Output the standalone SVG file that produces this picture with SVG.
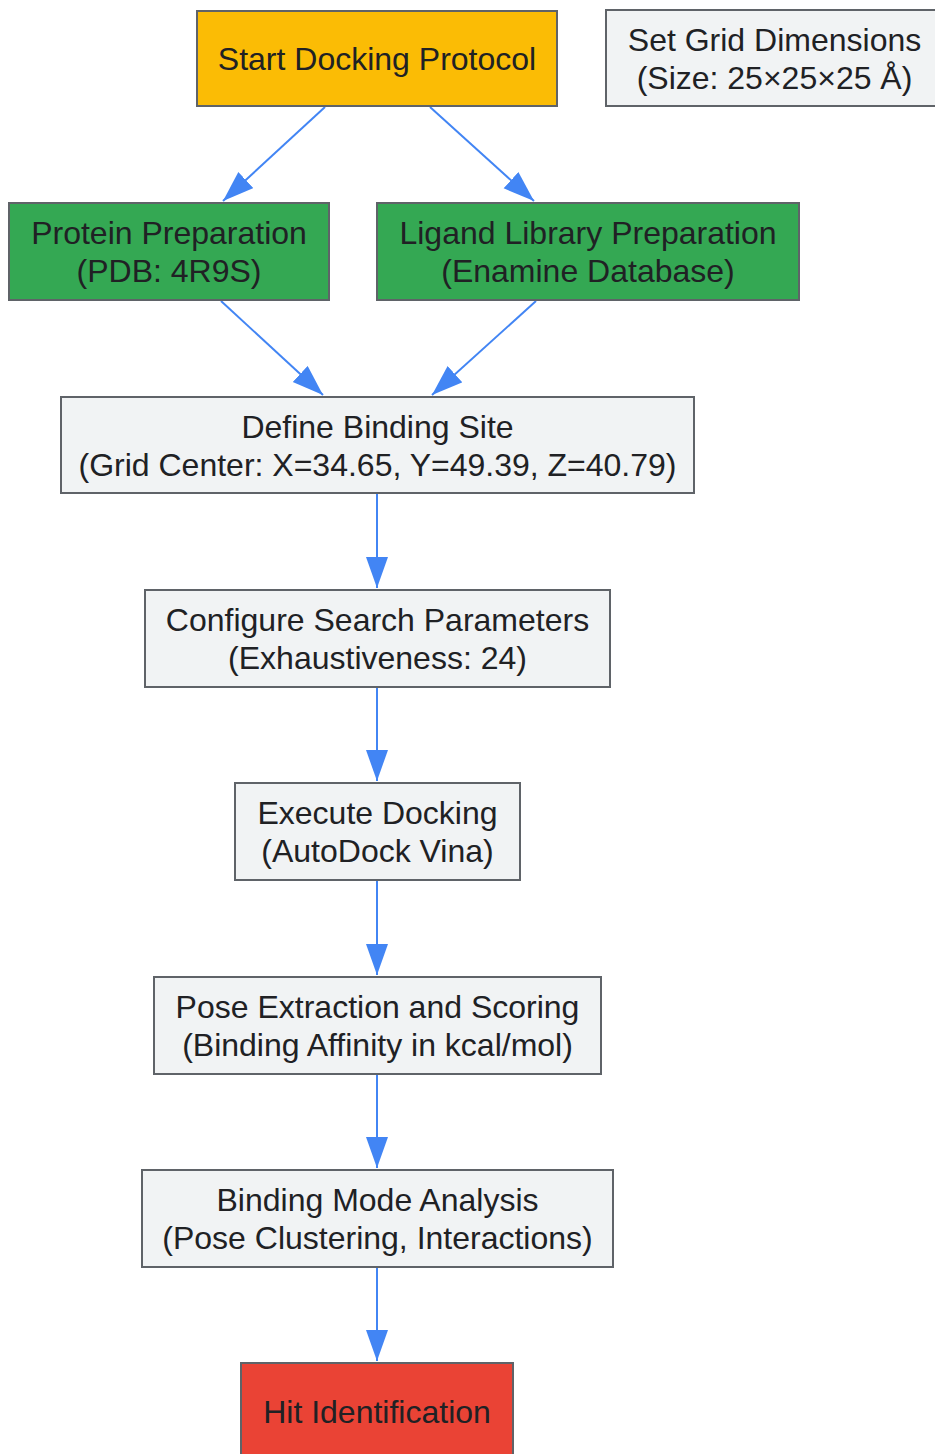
<svg xmlns="http://www.w3.org/2000/svg" width="935" height="1454" viewBox="0 0 935 1454">
<style>
rect.n{stroke:#5f6368;stroke-width:2}
.g{fill:#f1f3f4}.y{fill:#fbbc05}.gr{fill:#34a853}.r{fill:#ea4335}
text{font-family:"Liberation Sans",Arial,sans-serif;font-size:32px;fill:#202124;text-anchor:middle}
.e{stroke:#4285f4;stroke-width:2;fill:none}
</style>
<defs>
<marker id="ah" markerUnits="userSpaceOnUse" markerWidth="33" markerHeight="24" refX="31" refY="11" orient="auto">
<path d="M0,0 L31,11 L0,22 z" fill="#4285f4"/>
</marker>
</defs>
<g id="connectors">
<path class="e" d="M325,107 L223,201" marker-end="url(#ah)"/>
<path class="e" d="M430,107 L534,201" marker-end="url(#ah)"/>
<path class="e" d="M221,301 L323,395" marker-end="url(#ah)"/>
<path class="e" d="M536,301 L432,395" marker-end="url(#ah)"/>
<path class="e" d="M377,494 L377,588" marker-end="url(#ah)"/>
<path class="e" d="M377,688 L377,781" marker-end="url(#ah)"/>
<path class="e" d="M377,881 L377,975" marker-end="url(#ah)"/>
<path class="e" d="M377,1075 L377,1168" marker-end="url(#ah)"/>
<path class="e" d="M377,1268 L377,1361" marker-end="url(#ah)"/>
</g>
<g id="start"><rect class="n y" x="197" y="11" width="360" height="95"/><text x="377" y="70">Start Docking Protocol</text></g>
<g id="gridDims"><rect class="n g" x="606" y="10" width="337" height="96"/><text x="774.5" y="51">Set Grid Dimensions</text><text x="774.5" y="89">(Size: 25×25×25 Å)</text></g>
<g id="protein"><rect class="n gr" x="9" y="203" width="320" height="97"/><text x="169" y="244">Protein Preparation</text><text x="169" y="282">(PDB: 4R9S)</text></g>
<g id="ligand"><rect class="n gr" x="377" y="203" width="422" height="97"/><text x="588" y="244">Ligand Library Preparation</text><text x="588" y="282">(Enamine Database)</text></g>
<g id="bindingSite"><rect class="n g" x="61" y="397" width="633" height="96"/><text x="377.5" y="438">Define Binding Site</text><text x="377.5" y="476">(Grid Center: X=34.65, Y=49.39, Z=40.79)</text></g>
<g id="search"><rect class="n g" x="145" y="590" width="465" height="97"/><text x="377.5" y="631">Configure Search Parameters</text><text x="377.5" y="669">(Exhaustiveness: 24)</text></g>
<g id="execute"><rect class="n g" x="235" y="783" width="285" height="97"/><text x="377.5" y="824">Execute Docking</text><text x="377.5" y="862">(AutoDock Vina)</text></g>
<g id="pose"><rect class="n g" x="154" y="977" width="447" height="97"/><text x="377.5" y="1018">Pose Extraction and Scoring</text><text x="377.5" y="1056">(Binding Affinity in kcal/mol)</text></g>
<g id="mode"><rect class="n g" x="142" y="1170" width="471" height="97"/><text x="377.5" y="1211">Binding Mode Analysis</text><text x="377.5" y="1249">(Pose Clustering, Interactions)</text></g>
<g id="hit"><rect class="n r" x="241" y="1363" width="272" height="97"/><text x="377" y="1423">Hit Identification</text></g>
</svg>
